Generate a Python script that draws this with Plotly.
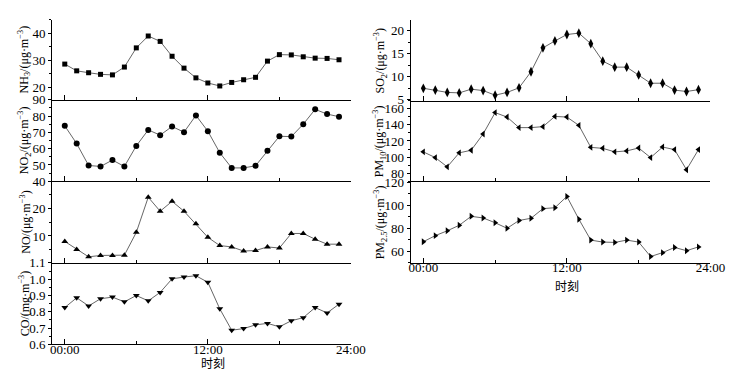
import plotly.graph_objects as go

hours = list(range(24))
x_tickvals = [0, 12, 24]
x_ticktext = ["00:00", "12:00", "24:00"]
x_title = "时刻"

nh3 = [28.6, 26.1, 25.4, 24.8, 24.6, 27.5, 34.6, 39.0, 37.0, 31.5, 27.1, 23.5,
       21.6, 20.5, 21.8, 22.8, 23.7, 29.7, 32.1, 32.0, 31.3, 30.8, 30.7, 30.2]
no2 = [74.0, 63.1, 49.7, 49.1, 53.0, 49.1, 61.7, 71.5, 68.3, 73.6, 70.1, 80.4,
       70.7, 57.5, 48.2, 48.2, 49.5, 58.8, 67.6, 67.4, 75.0, 84.1, 81.2, 79.6]
no = [8.0, 5.1, 2.4, 2.9, 2.9, 3.0, 11.3, 24.1, 19.0, 22.6, 19.0, 14.4,
      9.5, 6.5, 6.0, 4.5, 4.7, 6.0, 5.6, 10.9, 10.9, 8.8, 7.0, 7.0]
co = [0.826, 0.886, 0.836, 0.880, 0.890, 0.861, 0.900, 0.867, 0.919, 1.002, 1.013, 1.021,
      0.981, 0.818, 0.687, 0.697, 0.720, 0.729, 0.708, 0.745, 0.764, 0.826, 0.793, 0.847]
so2 = [7.5, 7.1, 6.6, 6.5, 7.3, 7.0, 6.0, 6.6, 7.6, 11.1, 16.3, 17.8,
       19.2, 19.5, 17.2, 13.4, 12.1, 12.1, 10.4, 8.6, 8.6, 7.1, 6.8, 7.2]
pm10 = [106.5, 99.4, 87.9, 105.3, 108.5, 128.7, 155.2, 149.7, 136.6, 136.6, 137.8, 150.5,
        149.7, 139.4, 112.1, 110.9, 106.5, 107.7, 111.3, 99.4, 112.5, 109.3, 84.4, 109.3]
pm25 = [68.4, 73.7, 77.9, 82.7, 90.5, 89.1, 84.9, 80.1, 86.9, 88.8, 97.2, 98.0,
        107.8, 88.0, 69.8, 68.1, 67.8, 69.8, 68.1, 55.5, 58.9, 63.4, 60.6, 63.9]

W, H = 736, 371
FONT = "Liberation Serif, Times New Roman, serif"
CJK = "Noto Sans CJK SC"

# (values, title, marker, yrange, dtick, minor, tickvals, column, top_px, bottom_px, is_bottom, msize, fmt)
panels = [
    (nh3, "NH<sub>3</sub>/(μg·m<sup>−3</sup>)", "square", [15.4, 45], 10, 5, None, 0, 5, 88.3, False, 5, ""),
    (no2, "NO<sub>2</sub>/(μg·m<sup>−3</sup>)", "circle", [40, 90], 10, 5, None, 0, 88.3, 173.3, False, 6, ""),
    (no, "NO/(μg·m<sup>−3</sup>)", "triangle-up", [0.2, 29.9], 10, 5, [10, 20], 0, 173.3, 258.3, False, 6, ""),
    (co, "CO/(mg·m<sup>−3</sup>)", "triangle-down", [0.6, 1.1], 0.1, 0.05, None, 0, 258.3, 343.3, True, 6, ".1f"),
    (so2, "SO<sub>2</sub>/(μg·m<sup>−3</sup>)", "diamond-tall", [4.8, 22.4], 5, 2.5, None, 1, 5, 89.3, False, 7, ""),
    (pm10, "PM<sub>10</sub>/(μg·m<sup>−3</sup>)", "triangle-left", [70, 170], 20, 10, None, 1, 89.3, 173.3, False, 6, ""),
    (pm25, "PM<sub>2.5</sub>/(μg·m<sup>−3</sup>)", "triangle-right", [50, 121], 20, 10, None, 1, 173.3, 258.3, True, 6, ""),
]

col_x = [(43, 349), (410, 717)]
title_x = [15, 379]
xtitle_y = {0: 362, 1: 282}

fig = go.Figure()
annotations = []
for i, (vals, title, sym, yr, dt, mdt, tv, col, top, bot, is_bottom, msize, fmt) in enumerate(panels):
    n = "" if i == 0 else str(i + 1)
    fig.add_trace(go.Scatter(
        x=hours, y=vals, mode="lines+markers",
        line=dict(color="#555555", width=0.9),
        marker=dict(symbol=sym, size=msize, color="black"),
        xaxis="x" + n, yaxis="y" + n, showlegend=False,
        cliponaxis=False,
    ))
    x0, x1 = col_x[col]
    xdom = [x0 / W, x1 / W]
    ydom = [1 - bot / H, 1 - top / H]
    xa = dict(
        domain=xdom, range=[-1.07, 24], anchor="y" + n,
        showline=True, linecolor="black", linewidth=1,
        showgrid=False, zeroline=False,
        tickmode="array", tickvals=x_tickvals, ticktext=x_ticktext,
        ticks="inside", ticklen=5, tickcolor="black", tickwidth=1,
        minor=dict(tickmode="array", tickvals=[6, 18], ticks="inside", ticklen=3, tickcolor="black"),
        showticklabels=is_bottom,
        ticklabelstandoff=-7,
        tickfont=dict(family=FONT, size=13, color="black"),
    )
    ya = dict(
        domain=ydom, range=yr, anchor="x" + n,
        showline=True, linecolor="black", linewidth=1,
        showgrid=False, zeroline=False,
        ticks="outside", ticklen=3, tickcolor="black", tickwidth=1,
        tickfont=dict(family=FONT, size=13, color="black"),
        tickformat=fmt,
        minor=dict(dtick=mdt, ticks="outside", ticklen=2, tickcolor="black"),
    )
    if tv is not None:
        ya["tickmode"] = "array"
        ya["tickvals"] = tv
        ya["minor"] = dict(tickmode="array", tickvals=[5, 15, 25], ticks="outside", ticklen=2, tickcolor="black")
    else:
        ya["dtick"] = dt
        ya["tick0"] = 0
    fig.update_layout(**{"xaxis" + n: xa, "yaxis" + n: ya})
    annotations.append(dict(
        text=title, textangle=-90, showarrow=False,
        x=title_x[col] / W, y=1 - (top + bot) / 2 / H, xref="paper", yref="paper",
        xanchor="center", yanchor="middle",
        font=dict(family=FONT, size=12, color="black"),
    ))
    if is_bottom:
        annotations.append(dict(
            text=x_title, showarrow=False,
            x=((x0 + x1) / 2 + (12 if col == 0 else 7)) / W, y=1 - xtitle_y[col] / H,
            xref="paper", yref="paper", xanchor="center", yanchor="middle",
            font=dict(family=CJK, size=12, color="black"),
        ))

fig.update_layout(
    width=W, height=H,
    margin=dict(l=0, r=0, t=0, b=0),
    paper_bgcolor="white", plot_bgcolor="white",
    annotations=annotations,
)

fig.write_html("out.html")
